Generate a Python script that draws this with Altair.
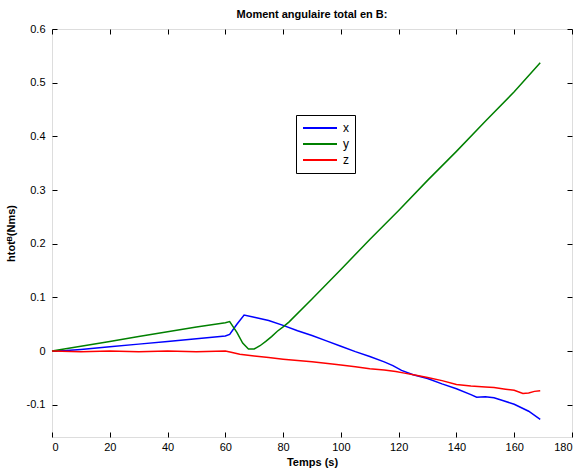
import altair as alt
import pandas as pd

# ---- data ----
t_x = [0, 5, 10, 20, 30, 40, 50, 60, 61.5, 64, 66.5, 70, 75, 80, 85, 90, 95, 100, 105, 110,
       115, 118, 121, 125, 130, 135, 140, 145, 147, 150, 153, 156, 160, 165, 169]
v_x = [0, 0.001, 0.003, 0.008, 0.013, 0.018, 0.023, 0.028, 0.031, 0.050, 0.067, 0.063, 0.057,
       0.048, 0.038, 0.029, 0.019, 0.009, -0.001, -0.010, -0.020, -0.027, -0.036, -0.044, -0.051,
       -0.061, -0.070, -0.081, -0.086, -0.085, -0.087, -0.092, -0.099, -0.112, -0.127]

t_y = [0, 10, 20, 30, 40, 50, 60, 61.5, 64, 66, 68, 70, 72, 74, 76, 78, 80, 82, 90, 100, 110,
       120, 130, 140, 150, 160, 169]
v_y = [0, 0.009, 0.018, 0.027, 0.036, 0.045, 0.053, 0.055, 0.035, 0.015, 0.004, 0.004, 0.010,
       0.018, 0.027, 0.037, 0.045, 0.054, 0.097, 0.152, 0.208, 0.262, 0.318, 0.372, 0.428, 0.483,
       0.537]

t_z = [0, 10, 20, 30, 40, 50, 60, 62, 65, 70, 75, 80, 86, 90, 97, 100, 105, 110, 115, 119, 122,
       126, 130, 135, 140, 145, 150, 153, 157, 160, 163, 165, 167, 169]
v_z = [0, -0.001, 0, -0.001, 0, -0.001, 0, -0.002, -0.006, -0.009, -0.012, -0.015, -0.018,
       -0.020, -0.024, -0.026, -0.029, -0.033, -0.035, -0.038, -0.041, -0.045, -0.049, -0.055,
       -0.062, -0.065, -0.067, -0.068, -0.071, -0.073, -0.079, -0.078, -0.075, -0.074]

series = ["x", "y", "z"]
colors = ["#0000ff", "#008000", "#ff0000"]
x_ticks = [0, 20, 40, 60, 80, 100, 120, 140, 160, 180]
y_ticks = [-0.1, 0, 0.1, 0.2, 0.3, 0.4, 0.5, 0.6]

rows = []
for name, ts, vs in zip(series, [t_x, t_y, t_z], [v_x, v_y, v_z]):
    rows += [{"t": t, "v": v, "s": name} for t, v in zip(ts, vs)]
df = pd.DataFrame(rows)

FONT = "Liberation Sans"
xscale = alt.Scale(domain=[0, 180], nice=False, zero=False)
yscale = alt.Scale(domain=[-0.16, 0.6], nice=False, zero=False)
ylab = "toString(round(datum.value*10)/10)"

common_axis = dict(offset=-5, tickSize=5, domain=False, grid=False, tickColor="#000000",
                   labelFont=FONT, labelFontSize=11, labelColor="#000000",
                   titleFont=FONT, titleFontSize=11, titleFontWeight="bold", titleColor="#000000")

lines = alt.Chart(df).mark_line(strokeWidth=1.5).encode(
    x=alt.X("t:Q", scale=xscale,
            axis=alt.Axis(orient="bottom", values=x_ticks, title="Temps (s)",
                          labelPadding=4, titlePadding=4, **common_axis)),
    y=alt.Y("v:Q", scale=yscale,
            axis=alt.Axis(orient="left", values=y_ticks, title="htotᴮ(Nms)", labelExpr=ylab,
                          labelPadding=7, titlePadding=10, **common_axis)),
    color=alt.Color("s:N", scale=alt.Scale(domain=series, range=colors),
                    legend=alt.Legend(title=None, orient="none", legendX=244, legendY=86,
                                      symbolType="stroke", symbolSize=1156, symbolStrokeWidth=2,
                                      strokeColor="#000000", fillColor="#ffffff", padding=6,
                                      labelFont=FONT, labelFontSize=12, labelColor="#000000",
                                      clipHeight=14, rowPadding=2, labelOffset=5,
                                      cornerRadius=0)),
)

frame = alt.Chart(df).mark_point(opacity=0).encode(
    x=alt.X("t:Q", scale=xscale,
            axis=alt.Axis(orient="top", values=x_ticks, labels=False, title=None, **common_axis)),
    y=alt.Y("v:Q", scale=yscale,
            axis=alt.Axis(orient="right", values=y_ticks, labels=False, title=None, **common_axis)),
)

chart = alt.layer(lines, frame).resolve_axis(x="independent", y="independent").properties(
    width=520, height=408,
    title=alt.TitleParams("Moment angulaire total en B:", font=FONT, fontSize=11,
                          fontWeight="bold", color="#000000", offset=3, anchor="middle"),
    autosize=alt.AutoSizeParams(type="none"),
    padding={"left": 52, "top": 29, "right": 9, "bottom": 35},
).configure_view(stroke="#000000", strokeWidth=1).configure(background="#ffffff")

chart.save("out.html", embed_options={"renderer": "svg", "actions": False})
